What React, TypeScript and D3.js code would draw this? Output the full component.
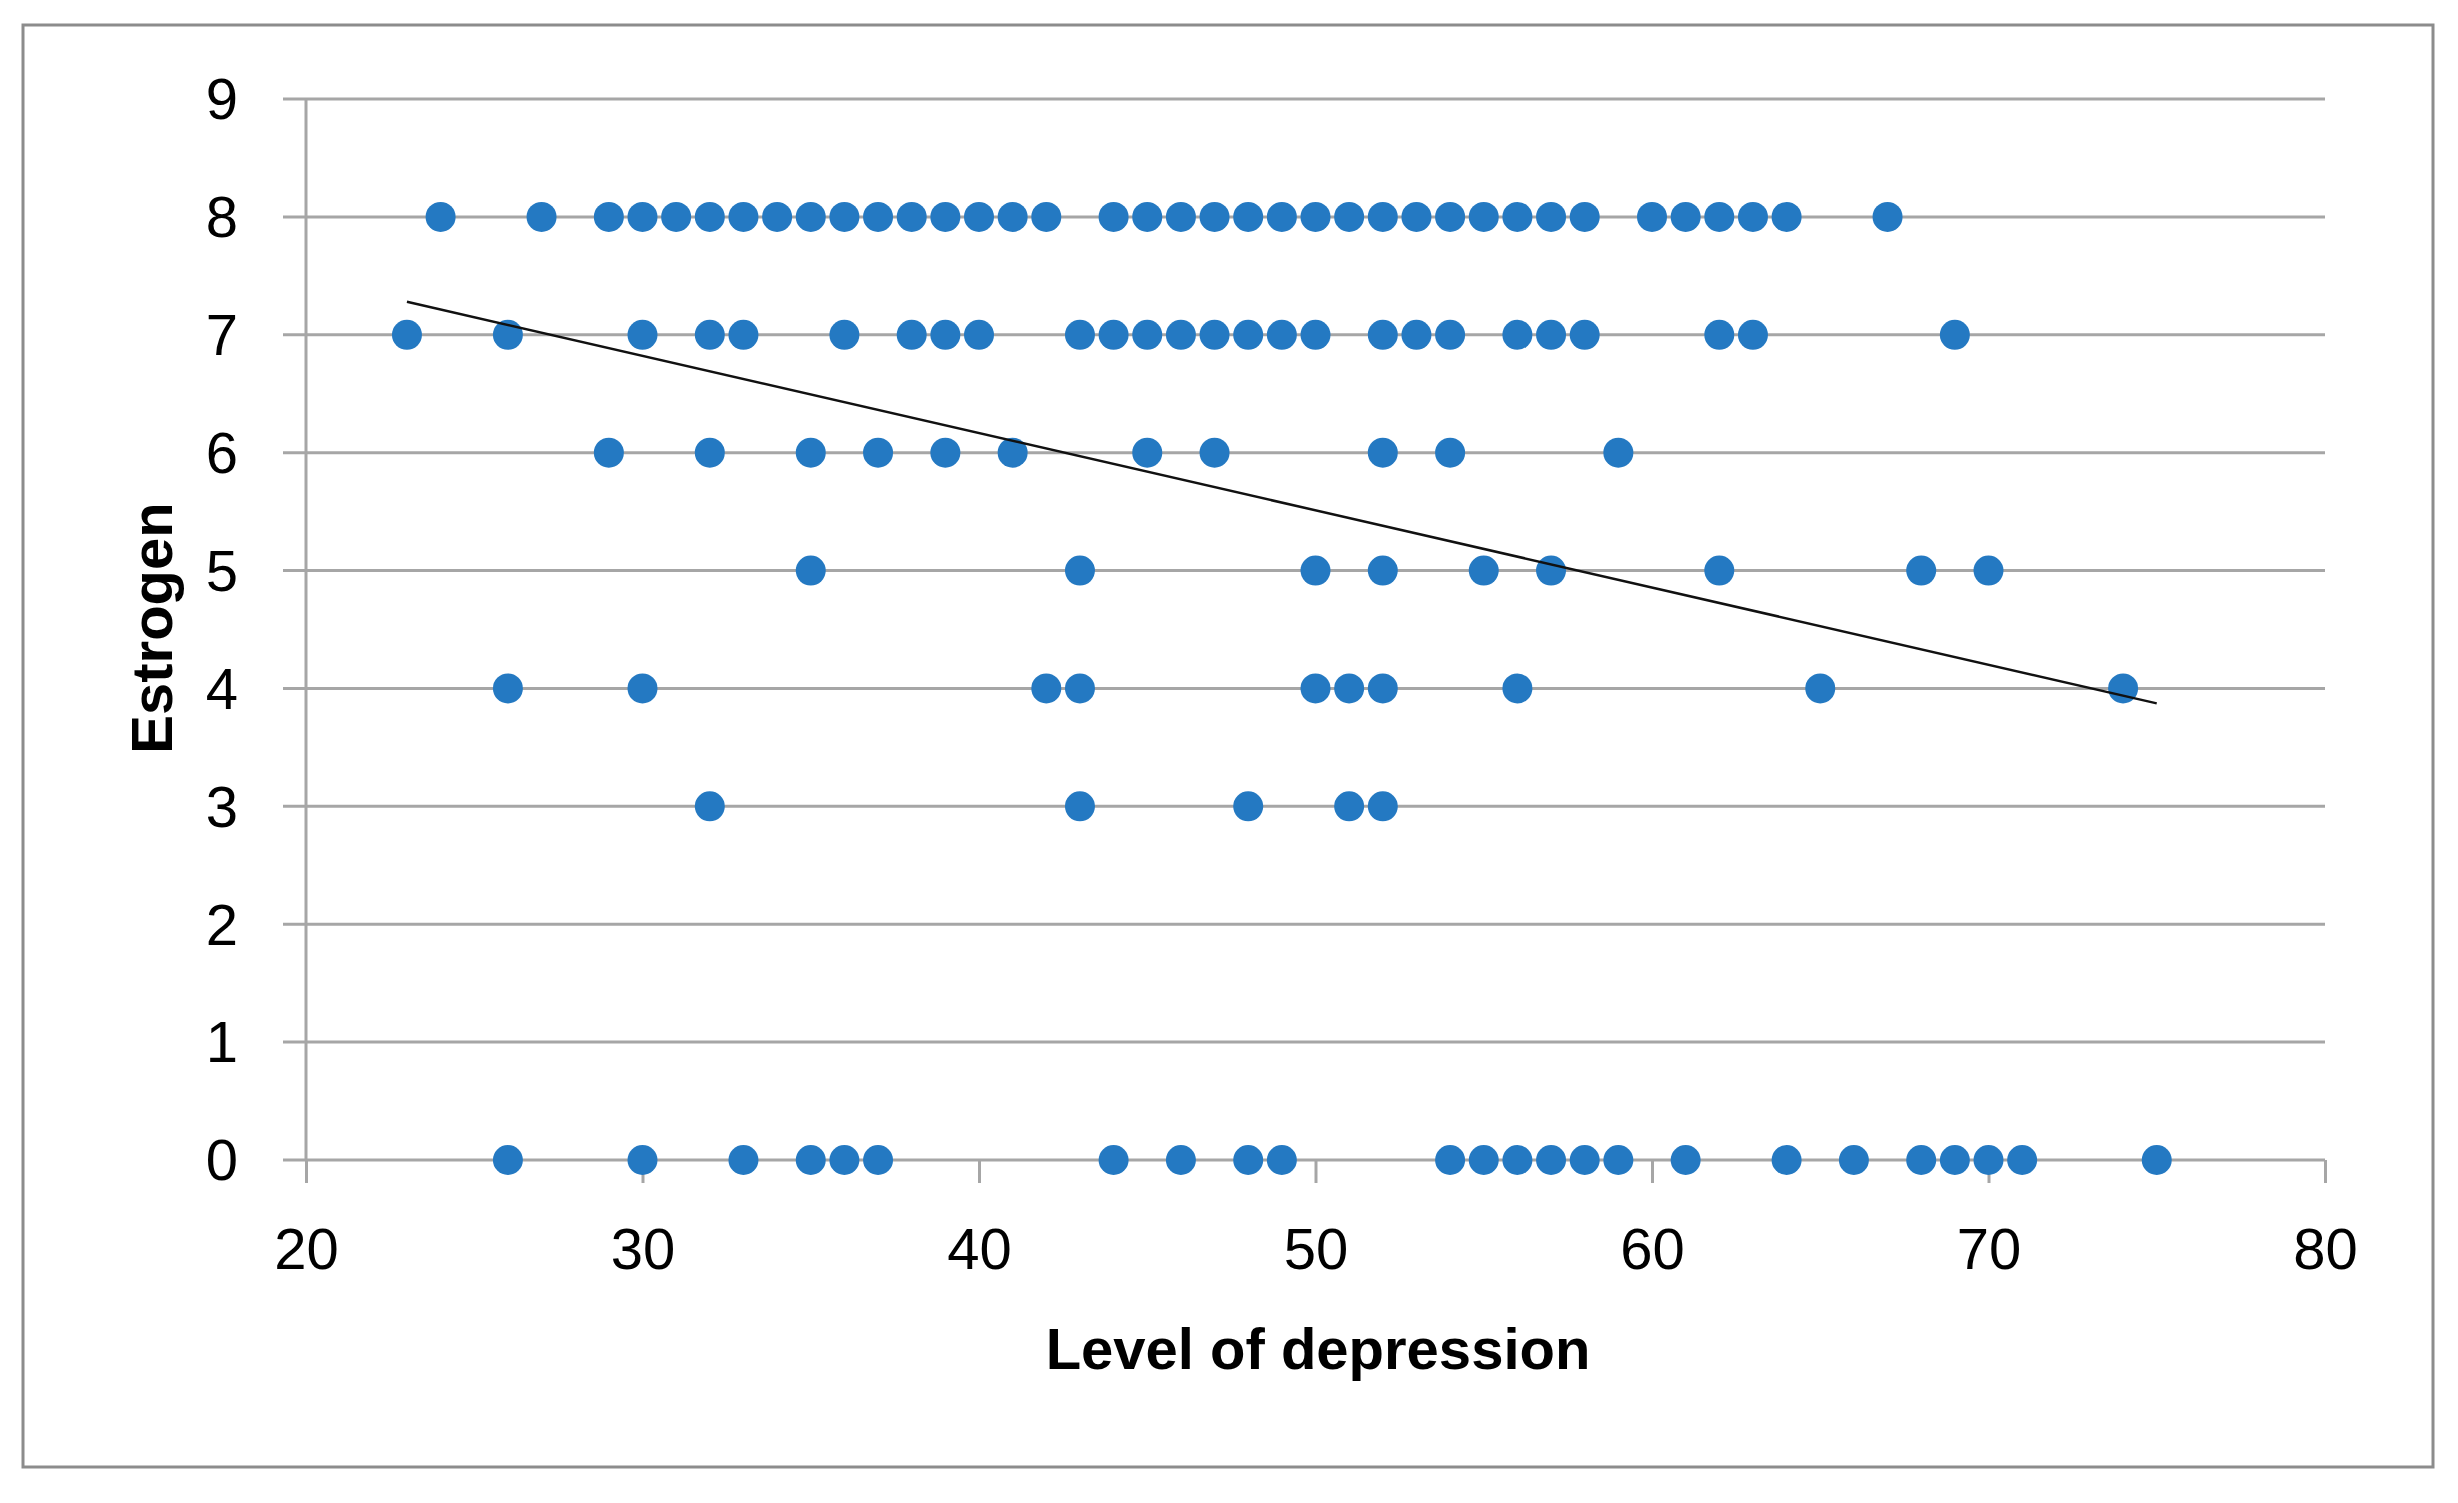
import React, { useEffect, useRef } from "react";
import * as d3 from "d3";

// depression scores at each estrogen level
const estrogen8 = [24, 27, 29, 30, 31, 32, 33, 34, 35, 36, 37, 38, 39, 40, 41, 42, 44, 45, 46, 47, 48, 49, 50, 51, 52, 53, 54, 55, 56, 57, 58, 60, 61, 62, 63, 64, 67];
const estrogen7 = [23, 26, 30, 32, 33, 36, 38, 39, 40, 43, 44, 45, 46, 47, 48, 49, 50, 52, 53, 54, 56, 57, 58, 62, 63, 69];
const estrogen6 = [29, 32, 35, 37, 39, 41, 45, 47, 52, 54, 59];
const estrogen5 = [35, 43, 50, 52, 55, 57, 62, 68, 70];
const estrogen4 = [26, 30, 42, 43, 50, 51, 52, 56, 65, 74];
const estrogen3 = [32, 43, 48, 51, 52];
const estrogen0 = [26, 30, 33, 35, 36, 37, 44, 46, 48, 49, 54, 55, 56, 57, 58, 59, 61, 64, 66, 68, 69, 70, 71, 75];

const xTicks = [20, 30, 40, 50, 60, 70, 80];
const yTicks = [0, 1, 2, 3, 4, 5, 6, 7, 8, 9];

// linear trend line (slope, intercept) as drawn
const trendSlope = -0.0655;
const trendIntercept = 8.786;

const xTitle = "Level of depression";
const yTitle = "Estrogen";

const App: React.FC = () => {
  const svgRef = useRef<SVGSVGElement>(null);

  useEffect(() => {
    const svg = d3.select(svgRef.current);
    svg.selectAll("*").remove();

    const width = 2458;
    const height = 1503;
    const margin = { top: 99, right: 133, bottom: 343, left: 306 };
    const font = "'Liberation Sans Narrow', 'Liberation Sans', Arial, sans-serif";

    const x = d3.scaleLinear().domain([20, 80]).range([margin.left, width - margin.right]);
    const y = d3.scaleLinear().domain([0, 9]).range([height - margin.bottom, margin.top]);

    // outer frame
    svg
      .append("rect")
      .attr("x", 23)
      .attr("y", 25)
      .attr("width", 2410)
      .attr("height", 1442)
      .style("fill", "#fff")
      .style("stroke", "#8c8c8c")
      .style("stroke-width", 3);

    // horizontal gridlines + left ticks
    svg
      .append("g")
      .selectAll("line")
      .data(yTicks)
      .join("line")
      .attr("x1", margin.left - 23)
      .attr("x2", x(80))
      .attr("y1", (d) => y(d))
      .attr("y2", (d) => y(d))
      .style("stroke", "#a6a6a6")
      .style("stroke-width", 3);

    // y axis line
    svg
      .append("line")
      .attr("x1", x(20))
      .attr("x2", x(20))
      .attr("y1", y(9))
      .attr("y2", y(0))
      .style("stroke", "#a6a6a6")
      .style("stroke-width", 3);

    // x axis ticks
    const xAxis = d3.axisBottom(x).tickValues(xTicks).tickSize(23).tickSizeOuter(0);
    const gx = svg
      .append("g")
      .attr("transform", `translate(0,${y(0)})`)
      .call(xAxis);
    gx.select(".domain").remove();
    gx.selectAll(".tick line").style("stroke", "#a6a6a6").style("stroke-width", 3);
    gx.selectAll(".tick text")
      .attr("y", 89)
      .attr("dy", "0.35em")
      .style("font-family", font)
      .style("font-size", "58px")
      .style("fill", "#000");

    // y tick labels
    svg
      .append("g")
      .selectAll("text")
      .data(yTicks)
      .join("text")
      .attr("x", 238)
      .attr("y", (d) => y(d))
      .attr("dy", "0.35em")
      .attr("text-anchor", "end")
      .style("font-family", font)
      .style("font-size", "58px")
      .text((d) => d);

    // points
    const rows: [number, number[]][] = [
      [8, estrogen8],
      [7, estrogen7],
      [6, estrogen6],
      [5, estrogen5],
      [4, estrogen4],
      [3, estrogen3],
      [0, estrogen0],
    ];
    const points = rows.flatMap(([level, xs]) => xs.map((v) => ({ x: v, y: level })));
    svg
      .append("g")
      .selectAll("circle")
      .data(points)
      .join("circle")
      .attr("cx", (d) => x(d.x))
      .attr("cy", (d) => y(d.y))
      .attr("r", 15)
      .style("fill", "#2479c2");

    // trend line, drawn over the range of the data
    const xExtent = d3.extent(points, (d) => d.x) as [number, number];
    const line = d3
      .line<number>()
      .x((d) => x(d))
      .y((d) => y(trendSlope * d + trendIntercept));
    svg
      .append("path")
      .datum(xExtent)
      .attr("d", line)
      .style("fill", "none")
      .style("stroke", "#111")
      .style("stroke-width", 2.5);

    // axis titles
    svg
      .append("text")
      .attr("x", 1318)
      .attr("y", 1349)
      .attr("dy", "0.35em")
      .attr("text-anchor", "middle")
      .style("font-family", font)
      .style("font-weight", "bold")
      .style("font-size", "58px")
      .text(xTitle);

    svg
      .append("text")
      .attr("transform", "translate(152,628) rotate(-90)")
      .attr("dy", "0.35em")
      .attr("text-anchor", "middle")
      .style("font-family", font)
      .style("font-weight", "bold")
      .style("font-size", "58px")
      .text(yTitle);

    return () => {
      svg.selectAll("*").remove();
    };
  }, []);

  return (
    <svg
      ref={svgRef}
      width="2458"
      height="1503"
      style={{ position: "absolute", left: 0, top: 0, display: "block", background: "#fff" }}
    />
  );
};

export default App;
